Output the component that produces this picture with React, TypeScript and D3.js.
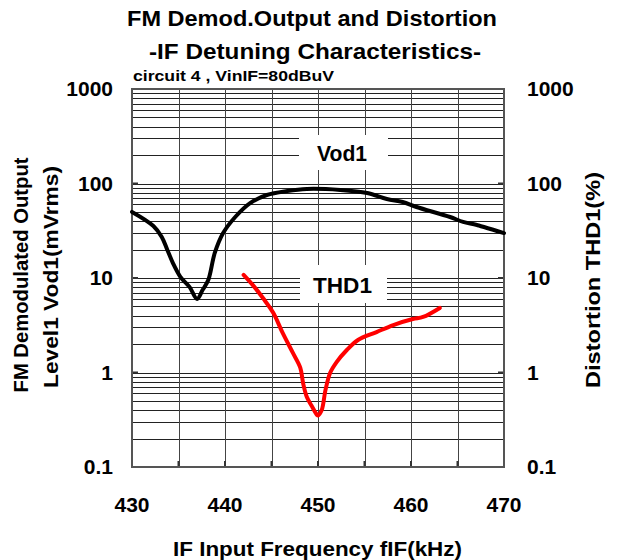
import React from "react";
import * as d3 from "d3";

const vodFreq = [430, 432.3, 433.2, 433.8, 434.4, 435.2, 436.2, 437.0, 437.6, 438.2, 438.9, 439.8, 441.1, 442.7, 444.5, 446.7, 448.8, 452.4, 455.3, 457.4, 459.1, 460.6, 464.2, 465.6, 467.1, 470];
const vodVal = [50, 35.5, 27.2, 19.8, 14.4, 10.3, 8.0, 6.0, 7.5, 9.5, 18.4, 29.9, 44.2, 62, 75.6, 83.3, 87.5, 85.4, 79.3, 68.5, 63.7, 56.4, 44.2, 39.2, 36.4, 29.9];
const thdFreq = [442.0, 443.0, 444.1, 445.2, 446.2, 447.3, 448.1, 448.4, 448.8, 449.4, 449.9, 450.0, 450.4, 450.8, 451.3, 452.0, 453.1, 454.3, 456.3, 458.1, 460.2, 461.3, 463.1];
const thdVal = [10.8, 8.4, 6.1, 4.26, 2.62, 1.61, 1.12, 0.77, 0.55, 0.43, 0.355, 0.35, 0.40, 0.65, 0.99, 1.29, 1.73, 2.21, 2.68, 3.18, 3.68, 3.87, 4.82];
const xTicks = [430, 440, 450, 460, 470];
const xGrid = [430, 435, 440, 445, 450, 455, 460, 465, 470];
const yTicks = [0.1, 1, 10, 100, 1000];
const yTickLabels = ["0.1", "1", "10", "100", "1000"];

const W = 617, H = 560;
const L = 132, R = 504, T = 89, B = 467;
const FONT = "'Liberation Sans', Arial, sans-serif";

export default function App() {
  const x = d3.scaleLinear().domain([430, 470]).range([L, R]);
  const y = d3.scaleLog().domain([0.1, 1000]).range([B, T]);
  const minor: number[] = [];
  for (const d of [0.1, 1, 10, 100]) for (let k = 1; k <= 10; k++) minor.push(d * k);
  const line = d3.line<[number, number]>().x(d => x(d[0])).y(d => y(d[1])).curve(d3.curveCatmullRom);
  const vod = line(vodFreq.map((f, i) => [f, vodVal[i]]))!;
  const thd = line(thdFreq.map((f, i) => [f, thdVal[i]]))!;
  return (
    <svg width={W} height={H} style={{ position: "absolute", left: 0, top: 0 }} fontFamily={FONT} fontWeight="bold">
      <rect x={0} y={0} width={W} height={H} fill="#fff" />
      <text x={127} y={26} fontSize={22} textLength={370} lengthAdjust="spacingAndGlyphs">FM Demod.Output and Distortion</text>
      <text x={149} y={59} fontSize={22} textLength={332} lengthAdjust="spacingAndGlyphs">-IF Detuning Characteristics-</text>
      <text x={133} y={81} fontSize={14} textLength={201} lengthAdjust="spacingAndGlyphs">circuit 4 , VinIF=80dBuV</text>
      <g stroke="#222" strokeWidth={1}>
        {minor.map((v, i) => (
          <line key={"h" + i} x1={L} x2={R} y1={Math.round(y(v)) + 0.5} y2={Math.round(y(v)) + 0.5} />
        ))}
        {xGrid.map((f, i) => (
          <line key={"v" + i} x1={Math.round(x(f)) + 0.5} x2={Math.round(x(f)) + 0.5} y1={T} y2={B} stroke="#444" />
        ))}
      </g>
      <g stroke="#333" strokeWidth={2}>
        {yTicks.map((v, i) => (
          <g key={"t" + i}>
            <line x1={L} x2={L + 6} y1={y(v)} y2={y(v)} />
            <line x1={R - 6} x2={R} y1={y(v)} y2={y(v)} />
          </g>
        ))}
        {xGrid.map((f, i) => (
          <line key={"xt" + i} x1={x(f)} x2={x(f)} y1={B - 6} y2={B} />
        ))}
      </g>
      <rect x={L} y={T} width={R - L} height={B - T} fill="none" stroke="#555" strokeWidth={2} />
      <rect x={299} y={135} width={89} height={35} fill="#fff" />
      <text x={317} y={161} fontSize={22} textLength={50} lengthAdjust="spacingAndGlyphs">Vod1</text>
      <rect x={300} y={265} width={87} height={38} fill="#fff" />
      <text x={313} y={293} fontSize={22} textLength={59} lengthAdjust="spacingAndGlyphs">THD1</text>
      <path d={vod} fill="none" stroke="#000" strokeWidth={4} strokeLinejoin="round" strokeLinecap="round" />
      <path d={thd} fill="none" stroke="#ff0000" strokeWidth={4} strokeLinejoin="round" strokeLinecap="round" />
      {yTicks.map((v, i) => (
        <g key={"yl" + i} fontSize={21}>
          <text x={113} y={y(v) + 7} textAnchor="end">{yTickLabels[i]}</text>
          <text x={527} y={y(v) + 7}>{yTickLabels[i]}</text>
        </g>
      ))}
      {xTicks.map((f, i) => (
        <text key={"xl" + i} x={x(f)} y={512} textAnchor="middle" fontSize={21}>{f}</text>
      ))}
      <text x={173} y={556} fontSize={21} textLength={289} lengthAdjust="spacingAndGlyphs">IF Input Frequency fIF(kHz)</text>
      <text transform="translate(28,275) rotate(-90)" textAnchor="middle" fontSize={20} textLength={235} lengthAdjust="spacingAndGlyphs">FM Demodulated Output</text>
      <text transform="translate(58,277) rotate(-90)" textAnchor="middle" fontSize={20} textLength={222} lengthAdjust="spacingAndGlyphs">Level1 Vod1(mVrms)</text>
      <text transform="translate(600,280) rotate(-90)" textAnchor="middle" fontSize={20} textLength={216} lengthAdjust="spacingAndGlyphs">Distortion THD1(%)</text>
    </svg>
  );
}
